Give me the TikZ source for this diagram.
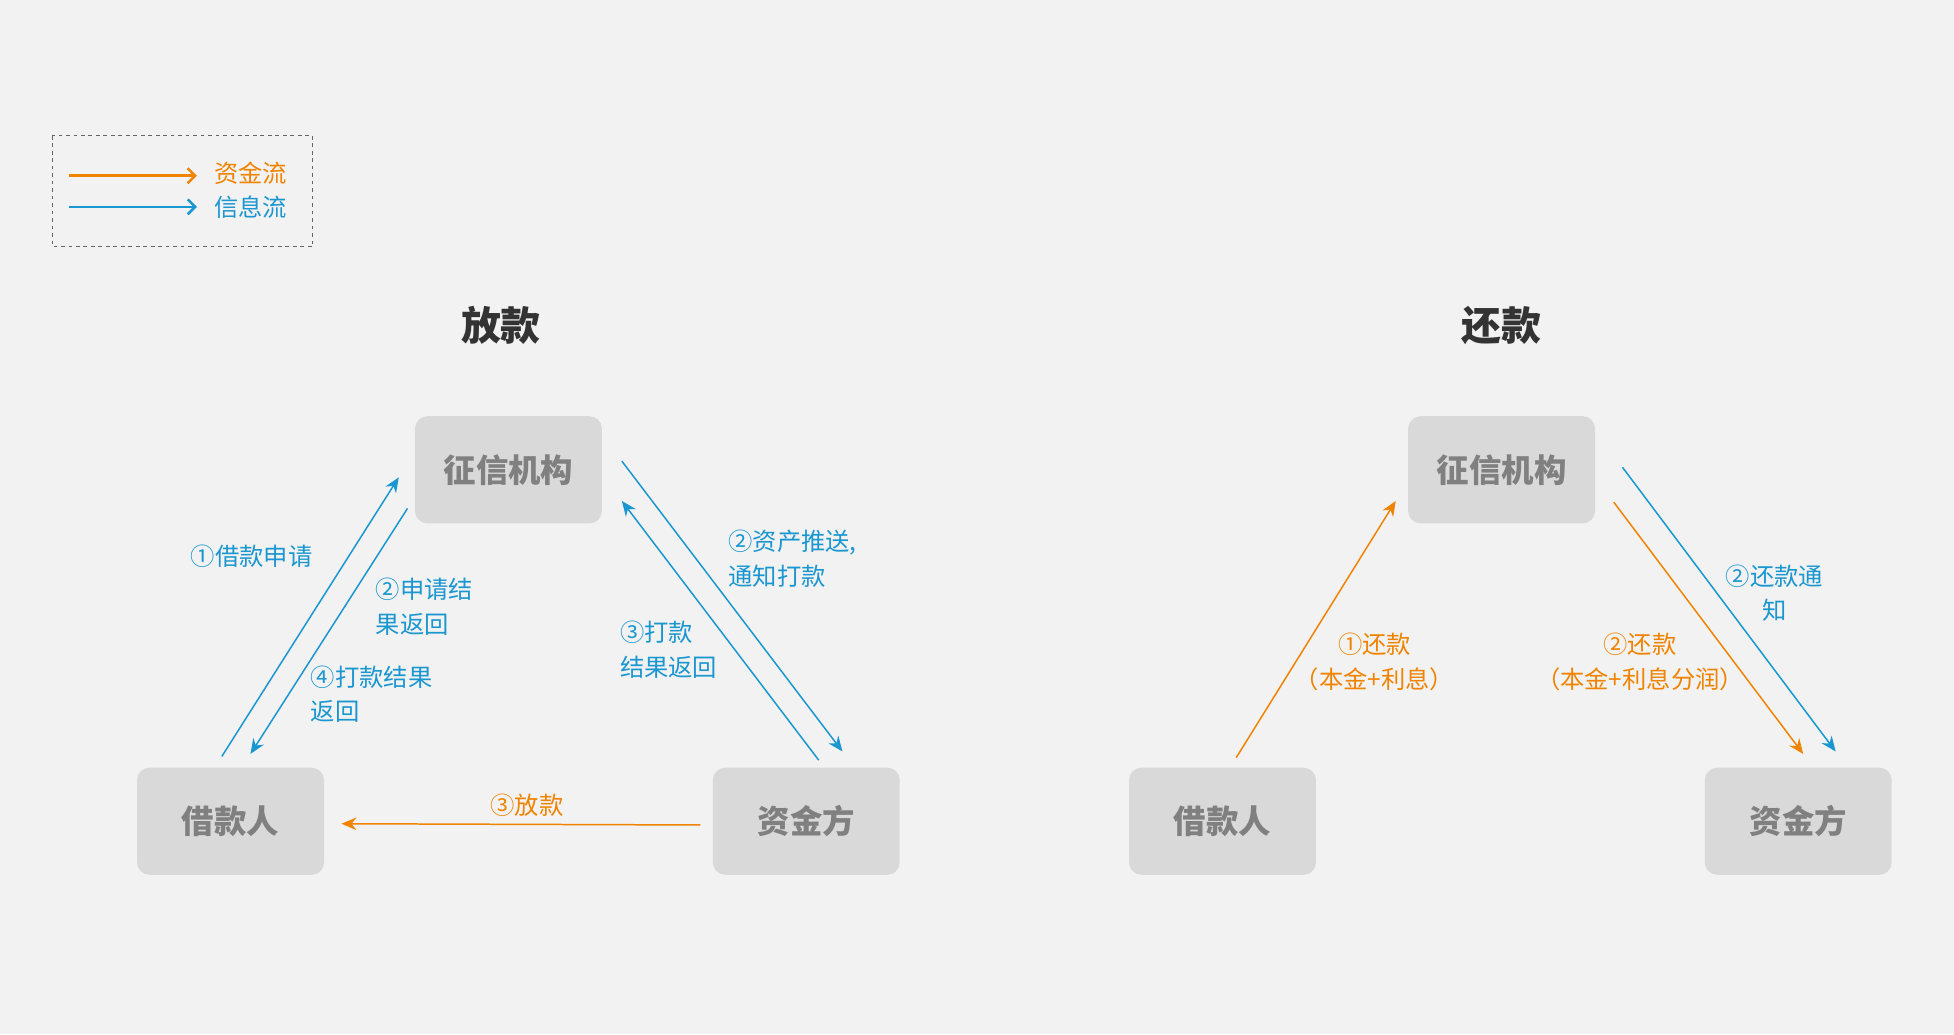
\documentclass[tikz,border=0pt]{standalone}
\usepackage{fontspec}
\setmainfont{Noto Sans CJK SC}
\usetikzlibrary{arrows.meta}
\definecolor{moneyc}{HTML}{F08300}
\definecolor{infoc}{HTML}{1A96D0}
\definecolor{boxc}{HTML}{D9D9D9}
\definecolor{bgc}{HTML}{F2F2F2}
\tikzset{
  party/.style={draw=none,fill=boxc,rounded corners=10pt,minimum width=150pt,minimum height=86pt,
    text=black!50,font=\fontsize{26}{30}\selectfont\bfseries},
  money/.style={-{Stealth[length=12pt,width=10pt]},draw=moneyc,line width=1.2pt},
  info/.style={-{Stealth[length=12pt,width=10pt]},draw=infoc,line width=1.2pt},
  lbl/.style={font=\fontsize{19.5}{28}\selectfont,align=left},
  ttl/.style={font=\fontsize{32}{36}\selectfont\bfseries,text=black!80}
}
\begin{document}
\begin{tikzpicture}[x=1pt,y=-1pt]
\fill[bgc] (0,0) rectangle (1568,830);
\useasboundingbox (0,0) rectangle (1568,830);

% legend
\draw[dashed,draw=black!60,line width=1pt] (42,109) rectangle (251,198);
\coordinate (LA1) at (55,141);
\coordinate (LB1) at (158,141);
\coordinate (LA2) at (55,166);
\coordinate (LB2) at (158,166);
\draw[money,line width=2pt,-{Straight Barb[length=6pt,width=12pt]}] (LA1) -- (LB1);
\draw[info,line width=2pt,-{Straight Barb[length=6pt,width=12pt]}] (LA2) -- (LB2);
\node (Lm) at (201,139)[lbl,text=moneyc] {资金流};
\node (Li) at (201,166)[lbl,text=infoc] {信息流};

% lending
\node (T1) at (402,261)[ttl] {放款};
\node (C1) at (408,377)[party] {征信机构};
\node (B1) at (185,659)[party] {借款人};
\node (F1) at (647,659)[party] {资金方};
\coordinate (a1) at (178,607); \coordinate (a2) at (320,383);
\coordinate (b1) at (327,408); \coordinate (b2) at (201,605);
\coordinate (c1) at (499,370); \coordinate (c2) at (676,603);
\coordinate (d1) at (657,610); \coordinate (d2) at (499,402);
\coordinate (e1) at (562,662); \coordinate (e2) at (274,661);
\draw [info] (a1) -- (a2);
\draw [info] (b1) -- (b2);
\draw [info] (c1) -- (c2);
\draw [info] (d1) -- (d2);
\draw [money] (e1) -- (e2);
\node (l1) at (202,446)[lbl,text=infoc] {①借款申请};
\node (l2) at (298,487)[lbl,text=infoc,anchor=west] {②申请结\\果返回};
\node (l3) at (246,557)[lbl,text=infoc,anchor=west] {④打款结果\\返回};
\node (l4) at (581,448)[lbl,text=infoc,anchor=west] {②资产推送,\\通知打款};
\node (l5) at (494,521)[lbl,text=infoc,anchor=west] {③打款\\结果返回};
\node (l6) at (423,646)[lbl,text=moneyc] {③放款};

% repayment
\node (T2) at (1205,261)[ttl] {还款};
\node (C2) at (1205,377)[party] {征信机构};
\node (B2) at (981,659)[party] {借款人};
\node (F2) at (1443,659)[party] {资金方};
\coordinate (f1) at (992,608); \coordinate (f2) at (1120,402);
\coordinate (g1) at (1302,375); \coordinate (g2) at (1473,603);
\coordinate (h1) at (1295,403); \coordinate (h2) at (1447,605);
\draw [money] (f1) -- (f2);
\draw [info] (g1) -- (g2);
\draw [money] (h1) -- (h2);
\node (m1) at (1103,531)[lbl,text=moneyc,align=center] {①还款\\（本金+利息）};
\node (m2) at (1424,476)[lbl,text=infoc,align=center] {②还款通\\知};
\node (m3) at (1316,531)[lbl,text=moneyc,align=center] {②还款\\（本金+利息分润）};
\end{tikzpicture}
\end{document}
